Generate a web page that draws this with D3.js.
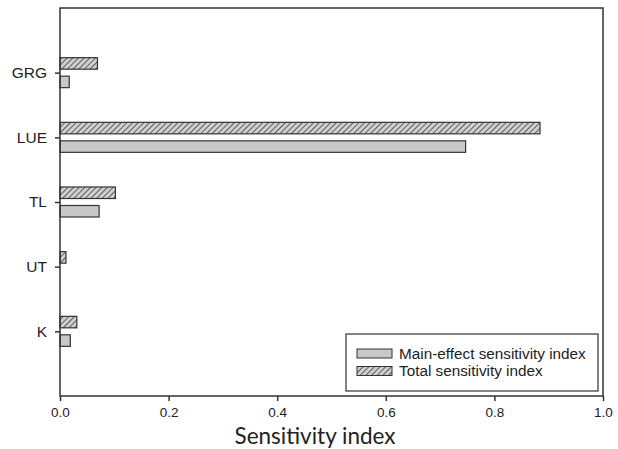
<!DOCTYPE html>
<html>
<head>
<meta charset="utf-8">
<script src="https://cdn.jsdelivr.net/npm/d3@7"></script>
<style>
  body { margin: 0; background: #fff; }
  svg { display: block; }
</style>
</head>
<body>
<script>
// Data
const categories = ['K', 'UT', 'TL', 'LUE', 'GRG'];
const mainEffect = [0.019, 0.0, 0.072, 0.747, 0.017];
const totalEffect = [0.031, 0.011, 0.102, 0.884, 0.069];
const xTicks = [0, 0.2, 0.4, 0.6, 0.8, 1.0];
const seriesNames = ['Main-effect sensitivity index', 'Total sensitivity index'];

const width = 618;
const height = 449;
const margin = { top: 8, right: 15, bottom: 53, left: 60 };
const sansFont = "'Liberation Sans', Arial, sans-serif";

const svg = d3.select('body')
  .append('svg')
  .attr('width', width)
  .attr('height', height);

// Hatch pattern for total index
const defs = svg.append('defs');
const pat = defs.append('pattern')
  .attr('id', 'hatch')
  .attr('patternUnits', 'userSpaceOnUse')
  .attr('width', 4)
  .attr('height', 4)
  .attr('patternTransform', 'rotate(45)');
pat.append('rect').attr('width', 4).attr('height', 4).attr('fill', '#d0d0d0');
pat.append('line')
  .attr('x1', 0).attr('y1', 0).attr('x2', 0).attr('y2', 4)
  .attr('stroke', '#404040').attr('stroke-width', 1.6);

const x = d3.scaleLinear()
  .domain([0, 1])
  .range([margin.left, width - margin.right]);

// categories sit at 1..5 on a 0..6 scale
const y = d3.scaleLinear()
  .domain([0, categories.length + 1])
  .range([height - margin.bottom, margin.top]);

const barH = 11.5;
const gap = 7;

// Bars
const g = svg.append('g');
categories.forEach((c, i) => {
  const cy = y(i + 1);
  g.append('rect')
    .attr('x', x(0))
    .attr('y', cy - gap / 2 - barH)
    .attr('width', x(totalEffect[i]) - x(0))
    .attr('height', barH)
    .attr('fill', 'url(#hatch)')
    .attr('stroke', '#333')
    .attr('stroke-width', 1.2);
  if (mainEffect[i] > 0) {
    g.append('rect')
      .attr('x', x(0))
      .attr('y', cy + gap / 2)
      .attr('width', x(mainEffect[i]) - x(0))
      .attr('height', barH)
      .attr('fill', '#c8c8c8')
      .attr('stroke', '#333')
      .attr('stroke-width', 1.2);
  }
});

// Frame
svg.append('rect')
  .attr('x', margin.left)
  .attr('y', margin.top)
  .attr('width', width - margin.left - margin.right)
  .attr('height', height - margin.top - margin.bottom)
  .attr('fill', 'none')
  .attr('stroke', '#333')
  .attr('stroke-width', 1.5);

// X axis
const xAxis = svg.append('g')
  .attr('transform', `translate(0,${height - margin.bottom})`)
  .call(d3.axisBottom(x).tickValues(xTicks).tickFormat(d3.format('.1f')).tickSize(5).tickPadding(6));
xAxis.select('.domain').remove();
xAxis.selectAll('line').attr('stroke', '#333').attr('stroke-width', 1.5);
xAxis.selectAll('text')
  .style('font-family', sansFont)
  .attr('font-size', 13.5)
  .attr('fill', '#222');

// Y axis
const yAxis = svg.append('g')
  .attr('transform', `translate(${margin.left},0)`)
  .call(d3.axisLeft(y)
    .tickValues(d3.range(1, categories.length + 1))
    .tickFormat(d => categories[d - 1])
    .tickSize(5)
    .tickPadding(8));
yAxis.select('.domain').remove();
yAxis.selectAll('line').attr('stroke', '#333').attr('stroke-width', 1.5);
yAxis.selectAll('text')
  .style('font-family', sansFont)
  .attr('font-size', 15.5)
  .attr('fill', '#222');

// Axis title
svg.append('text')
  .attr('x', 315)
  .attr('y', 444)
  .attr('text-anchor', 'middle')
  .style('font-family', "Lato, 'Open Sans', sans-serif")
  .attr('font-size', 22.5)
  .attr('fill', '#222')
  .text('Sensitivity index');

// Legend
const legend = svg.append('g').attr('transform', 'translate(346,334)');
legend.append('rect')
  .attr('width', 252)
  .attr('height', 57)
  .attr('fill', '#fff')
  .attr('stroke', '#333')
  .attr('stroke-width', 1.2);
const fills = ['#c8c8c8', 'url(#hatch)'];
seriesNames.forEach((name, i) => {
  const row = legend.append('g').attr('transform', `translate(11,${15 + i * 17.5})`);
  row.append('rect')
    .attr('width', 35)
    .attr('height', 9)
    .attr('fill', fills[i])
    .attr('stroke', '#333')
    .attr('stroke-width', 1);
  row.append('text')
    .attr('x', 42)
    .attr('y', 9.5)
    .style('font-family', sansFont)
    .attr('font-size', 15.3)
    .attr('fill', '#222')
    .text(name);
});
</script>
</body>
</html>
